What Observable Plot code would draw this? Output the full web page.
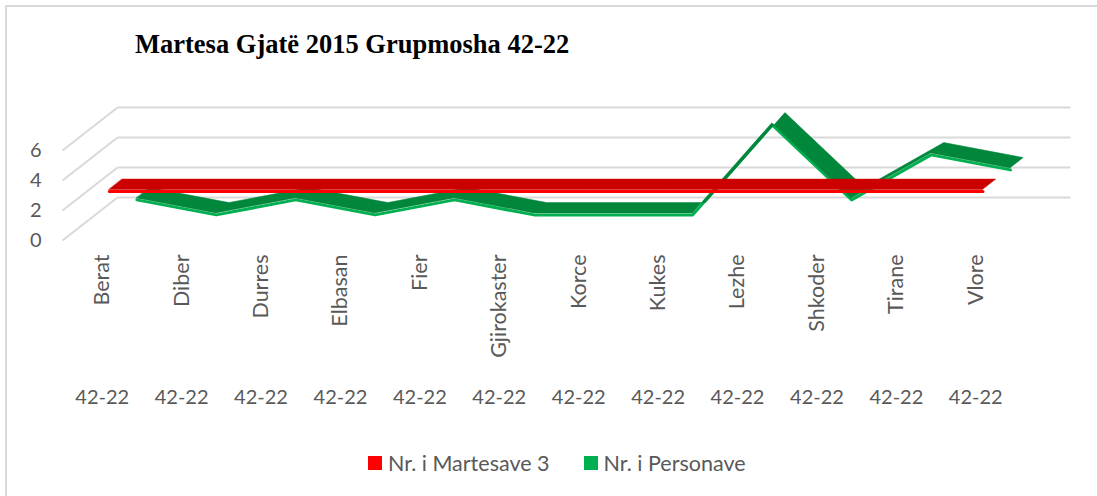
<!DOCTYPE html>
<html>
<head>
<meta charset="utf-8">
<script src="https://cdn.jsdelivr.net/npm/d3@7"></script>
<script src="https://cdn.jsdelivr.net/npm/@observablehq/plot@0.6"></script>
<style>
  html, body { margin: 0; padding: 0; background: #fff; overflow: hidden; }
  #wrap { position: relative; width: 1097px; height: 496px; }
  #frame { position: absolute; left: 5px; top: 5px; width: 1100px; height: 500px; border: 2px solid #d9d9d9; box-sizing: border-box; }
  #title { position: absolute; left: 135px; top: 31px; font: bold 26.5px/26px "Liberation Serif", "Times New Roman", serif; color: #000; white-space: nowrap; }
  #chart { position: absolute; left: 0; top: 0; }
  #legend { position: absolute; left: 368px; top: 451px; display: flex; align-items: center; font: 21.5px/24px Lato, sans-serif; color: #595959; white-space: nowrap; }
  .sw { display: inline-block; width: 14px; height: 14px; margin-right: 6px; }
  .item { display: flex; align-items: center; margin-right: 34px; }
</style>
</head>
<body>
<div id="wrap">
  <div id="frame"></div>
  <div id="title">Martesa Gjatë 2015 Grupmosha 42-22</div>
  <div id="chart"></div>
  <div id="legend"></div>
</div>
<script>
const categories = ["Berat","Diber","Durres","Elbasan","Fier","Gjirokaster","Korce","Kukes","Lezhe","Shkoder","Tirane","Vlore"];
const ageGroups = ["42-22","42-22","42-22","42-22","42-22","42-22","42-22","42-22","42-22","42-22","42-22","42-22"];
const martesave = [3,3,3,3,3,3,3,3,3,3,3,3];
const personave = [1,0,1,0,1,0,0,0,6,1,4,3];
const yTicks = [0,2,4,6];
const seriesNames = ["Nr. i Martesave 3", "Nr. i Personave"];

// 3D depth offset of the back wall, in data units (x: categories, y: values)
const DX = 0.693, DY = 2.87;

function ribbon(values, f0, f1) {
  return values.map((v, i) => ({
    xf: i + f0 * DX, yf: v + f0 * DY,
    xb: i + f1 * DX, yb: v + f1 * DY
  }));
}
const redRows = ribbon(martesave, 0.13, 0.37);
const greenRows = ribbon(personave, 0.63, 0.87);

const idx = categories.map((d, i) => i);
const x0 = -0.5, x1 = categories.length - 0.5;

const plot = Plot.plot({
  width: 1097,
  height: 430,
  marginLeft: 62,
  marginRight: 82,
  marginTop: 90,
  marginBottom: 190,
  x: {domain: [x0, x1]},
  y: {domain: [0, 10]},
  style: {fontFamily: "Lato, sans-serif", fontSize: "20px", color: "#595959", background: "transparent", overflow: "visible"},
  marks: [
    // skewed gridlines: side diagonals + back wall
    Plot.link(yTicks, {x1: () => x0, y1: d => d, x2: () => x0 + DX, y2: d => d + DY, stroke: "#d9d9d9", strokeWidth: 2}),
    Plot.link(yTicks, {x1: () => x0 + DX, y1: d => d + DY, x2: () => x1 + DX, y2: d => d + DY, stroke: "#d9d9d9", strokeWidth: 2}),
    Plot.axisY({ticks: yTicks, tickSize: 0, tickPadding: 21}),
    Plot.axisX({ticks: idx, tickFormat: i => categories[i], tickRotate: -90, tickSize: 0, tickPadding: 14, fontSize: 21.5}),
    Plot.axisX({ticks: idx, tickFormat: i => ageGroups[i], tickSize: 0, tickPadding: 149}),
    // green ribbon (back row)
    Plot.line(greenRows, {x: "xf", y: "yf", stroke: "#00b050", strokeWidth: 3, dy: 1.5}),
    Plot.area(greenRows, {x1: "xf", y1: "yf", x2: "xb", y2: "yb", fill: "#00873c", stroke: "#00873c", strokeWidth: 0.5}),
    // red ribbon (front row)
    Plot.line(redRows, {x: "xf", y: "yf", stroke: "#ff0000", strokeWidth: 3, dy: 1.5}),
    Plot.area(redRows, {x1: "xf", y1: "yf", x2: "xb", y2: "yb", fill: "#cc0000", stroke: "#cc0000", strokeWidth: 0.5})
  ]
});
document.getElementById("chart").appendChild(plot);

const legendColors = ["#ff0000", "#00b050"];
const legend = document.getElementById("legend");
seriesNames.forEach((name, k) => {
  const item = document.createElement("span");
  item.className = "item";
  const sw = document.createElement("span");
  sw.className = "sw";
  sw.style.background = legendColors[k];
  item.appendChild(sw);
  item.appendChild(document.createTextNode(name));
  legend.appendChild(item);
});
</script>
</body>
</html>
